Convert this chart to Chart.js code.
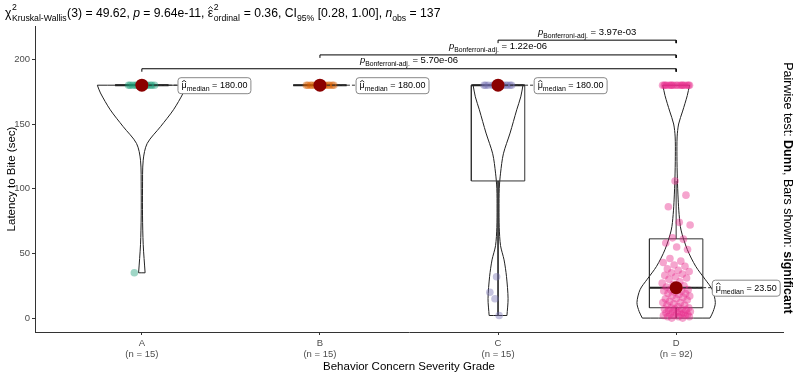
<!DOCTYPE html>
<html>
<head>
<meta charset="utf-8">
<script src="https://cdn.jsdelivr.net/npm/chart.js@4.4.1/dist/chart.umd.min.js"></script>
<style>
  html, body { margin: 0; padding: 0; background: #fff; }
  #wrap { width: 800px; height: 374px; position: relative; }
</style>
</head>
<body>
<div id="wrap"><canvas id="chart"></canvas></div>
<script>
// Groups and sizes
const groups = ['A', 'B', 'C', 'D'];
const groupN = [15, 15, 15, 92];
const groupColors = ['27, 158, 119', '217, 95, 2', '117, 112, 179', '231, 41, 138'];

// Raw observations (latency in seconds)
const valuesA = [180, 35, 180, 180, 180, 180, 180, 180, 180, 180, 180, 180, 180, 180, 180];
const valuesB = [180, 180, 180, 180, 180, 180, 180, 180, 180, 180, 180, 180, 180, 180, 180];
const valuesC = [180, 180, 180, 20, 180, 32, 180, 180, 180, 180, 2, 180, 180, 15, 180];
const valuesD = [
  0, 0, 1, 1, 1, 2, 2, 2, 3, 3, 3, 4, 4, 4, 5, 5, 5, 6, 6, 7, 7, 7, 8,
  8, 9, 10, 10, 11, 12, 12, 13, 14, 15, 15, 16, 17, 17, 18, 19, 19, 20, 21, 21, 22, 22, 23,
  24, 25, 26, 27, 28, 30, 31, 32, 33, 34, 35, 36, 37, 38, 40, 41, 43, 44, 46, 53, 55, 58, 61, 62,
  72, 74, 86, 95, 106,
  180, 180, 180, 180, 180, 180, 180, 180, 180, 180, 180, 180, 180, 180, 180, 180, 180
];
const groupValues = [valuesA, valuesB, valuesC, valuesD];

// Violin density profiles (relative)
const violinA_y = [35, 57, 79, 100, 122, 135, 148, 161, 174, 180];
const violinA_d = [0.073, 0.03, 0.015, 0.015, 0.03, 0.12, 0.42, 0.71, 0.93, 1.0];
const violinC_y = [2, 15, 32, 45, 56, 70, 85, 100, 112, 127, 143, 161, 171, 180];
const violinC_d = [0.2, 0.225, 0.19, 0.135, 0.056, 0.027, 0.022, 0.027, 0.056, 0.12, 0.27, 0.42, 0.51, 0.56];
const violinD_y = [0, 5, 12, 22, 30, 40, 53, 68, 80, 92, 108, 125, 140, 150, 160, 172, 180];
const violinD_d = [0.76, 0.83, 0.88, 0.81, 0.65, 0.44, 0.25, 0.11, 0.067, 0.045, 0.027, 0.018, 0.022, 0.056, 0.146, 0.25, 0.30];
const violins = [
  { g: 0, y: violinA_y, d: violinA_d },
  { g: 2, y: violinC_y, d: violinC_d },
  { g: 3, y: violinD_y, d: violinD_d }
];

// Pairwise comparisons (Dunn, Bonferroni)
const pairs = [[1, 4], [2, 4], [3, 4]];
const pairP = ['5.70e-06', '1.22e-06', '3.97e-03'];
const bracketLevels = [192.7, 203.4, 214.8];

// Kruskal-Wallis summary
const kwDf = 3;
const kwChi2 = '49.62';
const kwP = '9.64e-11';
const kwEps2 = '0.36';
const kwCI = ['0.28', '1.00'];

const FONT = '"Liberation Sans", Arial, sans-serif';
const VIOLIN_HALF = 0.25;
const BOX_HALF = 0.15;
const JITTER = 0.08;

function quantile(s, p) {
  const h = (s.length - 1) * p, lo = Math.floor(h);
  const hi = Math.min(lo + 1, s.length - 1);
  return s[lo] + (h - lo) * (s[hi] - s[lo]);
}
function boxStats(vals) {
  const s = [...vals].sort((a, b) => a - b);
  const q1 = quantile(s, 0.25), med = quantile(s, 0.5), q3 = quantile(s, 0.75);
  const iqr = q3 - q1;
  const lo = Math.min(...s.filter(v => v >= q1 - 1.5 * iqr));
  const hi = Math.max(...s.filter(v => v <= q3 + 1.5 * iqr));
  return { q1, med, q3, lo, hi };
}
const stats = groupValues.map(boxStats);

// deterministic horizontal spread for the dots
function jitter(i, g) {
  const u = ((i + 1) * 0.6180339887 + g * 0.37) % 1;
  return (u - 0.5) * 2 * JITTER;
}

const datasets = [];
const GAP = c => ({ x: c, y: null });

// violins
violins.forEach(v => {
  const c = v.g + 1, pts = [];
  const n = v.y.length;
  v.y.forEach((yy, i) => pts.push({ x: c + v.d[i] * VIOLIN_HALF, y: yy }));
  pts.push(GAP(c));
  v.y.forEach((yy, i) => pts.push({ x: c - v.d[i] * VIOLIN_HALF, y: yy }));
  pts.push(GAP(c));
  pts.push({ x: c - v.d[n - 1] * VIOLIN_HALF, y: v.y[n - 1] }, { x: c + v.d[n - 1] * VIOLIN_HALF, y: v.y[n - 1] });
  pts.push(GAP(c));
  pts.push({ x: c - v.d[0] * VIOLIN_HALF, y: v.y[0] }, { x: c + v.d[0] * VIOLIN_HALF, y: v.y[0] });
  datasets.push({
    data: pts, showLine: true, spanGaps: false, tension: 0.3, fill: false,
    borderColor: '#222', borderWidth: 1, pointRadius: 0, pointHoverRadius: 0, order: 6
  });
});

// boxes + whiskers
stats.forEach((s, g) => {
  const c = g + 1;
  datasets.push({
    data: [
      { x: c - BOX_HALF, y: s.q1 }, { x: c + BOX_HALF, y: s.q1 }, { x: c + BOX_HALF, y: s.q3 },
      { x: c - BOX_HALF, y: s.q3 }, { x: c - BOX_HALF, y: s.q1 }, GAP(c),
      { x: c, y: s.q3 }, { x: c, y: s.hi }, GAP(c),
      { x: c, y: s.q1 }, { x: c, y: s.lo }
    ],
    showLine: true, spanGaps: false, tension: 0, fill: false,
    borderColor: '#333', borderWidth: 1, pointRadius: 0, pointHoverRadius: 0, order: 5
  });
  datasets.push({
    data: [{ x: c - BOX_HALF, y: s.med }, { x: c + BOX_HALF, y: s.med }],
    showLine: true, tension: 0, borderColor: '#222', borderWidth: 2,
    pointRadius: 0, pointHoverRadius: 0, order: 4
  });
});

// pairwise brackets
const TICK = 2.3;
pairs.forEach((pr, k) => {
  const yl = bracketLevels[k];
  datasets.push({
    data: [{ x: pr[0], y: yl - TICK }, { x: pr[0], y: yl }, { x: pr[1], y: yl }, { x: pr[1], y: yl - TICK }],
    showLine: true, tension: 0, borderColor: '#000', borderWidth: 1,
    pointRadius: 0, pointHoverRadius: 0, order: 6, clip: false
  });
});

// jittered observations
groupValues.forEach((vals, g) => {
  datasets.push({
    data: vals.map((v, i) => ({ x: g + 1 + jitter(i, g), y: v })),
    pointRadius: 3.8, pointHoverRadius: 3.8, borderWidth: 0,
    backgroundColor: `rgba(${groupColors[g]}, 0.42)`, order: 2
  });
});

// medians
datasets.push({
  data: stats.map((s, g) => ({ x: g + 1, y: s.med })),
  pointRadius: 6.5, pointHoverRadius: 6.5, borderWidth: 0,
  backgroundColor: '#8B0000', order: 1
});

// ---- rich text helpers (sub/superscripts, hats) ----
function fontStr(p) {
  return `${p.it ? 'italic ' : ''}${p.b ? 'bold ' : ''}${p.f}px ${FONT}`;
}
function measureRich(ctx, parts) {
  let w = 0;
  parts.forEach(p => {
    ctx.font = fontStr(p);
    if (p.kind === 'stack') {
      p.w = Math.max(ctx.measureText(p.sup).width, ctx.measureText(p.sub).width) + 1;
    } else {
      p.w = ctx.measureText(p.t).width;
    }
    w += p.w;
  });
  return w;
}
function drawHat(ctx, x, y, w, f) {
  const top = y - f * 0.58;
  ctx.save();
  ctx.lineWidth = 0.8;
  ctx.beginPath();
  ctx.moveTo(x + 0.5, top - 1);
  ctx.lineTo(x + w / 2, top - f * 0.28);
  ctx.lineTo(x + w - 0.5, top - 1);
  ctx.stroke();
  ctx.restore();
}
function drawRich(ctx, x, y, parts) {
  const total = measureRich(ctx, parts);
  ctx.textAlign = 'left';
  ctx.textBaseline = 'alphabetic';
  parts.forEach(p => {
    ctx.font = fontStr(p);
    if (p.kind === 'stack') {
      ctx.fillText(p.sup, x + 0.5, y - p.f * 0.8);
      ctx.fillText(p.sub, x + 0.5, y + p.f * 0.45);
    } else if (p.kind === 'sub') {
      ctx.fillText(p.t, x, y + p.f * 0.45);
    } else {
      ctx.fillText(p.t, x, y);
      if (p.hat) drawHat(ctx, x, y, p.w, p.f);
    }
    x += p.w;
  });
  return total;
}

const annotPlugin = {
  id: 'annot',
  afterDatasetsDraw(chart) {
    const { ctx, scales: { x, y } } = chart;
    ctx.save();
    ctx.fillStyle = '#000';
    ctx.strokeStyle = '#000';

    // bracket labels
    pairs.forEach((pr, k) => {
      const xm = x.getPixelForValue((pr[0] + pr[1]) / 2);
      const yl = y.getPixelForValue(bracketLevels[k]);
      const parts = [
        { t: 'p', f: 9.5, it: true },
        { t: 'Bonferroni-adj.', f: 6.8, kind: 'sub' },
        { t: ' = ' + pairP[k], f: 9.5 }
      ];
      const w = measureRich(ctx, parts);
      drawRich(ctx, xm - w / 2, yl - 5.5, parts);
    });

    // median labels
    stats.forEach((s, g) => {
      const px = x.getPixelForValue(g + 1);
      const py = y.getPixelForValue(s.med);
      const bx = x.getPixelForValue(g + 1.2);
      const parts = [
        { t: 'μ', f: 9, hat: true },
        { t: 'median', f: 7, kind: 'sub' },
        { t: ' = ' + s.med.toFixed(2), f: 9 }
      ];
      const w = measureRich(ctx, parts);
      ctx.save();
      ctx.strokeStyle = '#333';
      ctx.lineWidth = 1;
      ctx.setLineDash([3, 2]);
      ctx.beginPath();
      ctx.moveTo(px + 7, py);
      ctx.lineTo(bx, py);
      ctx.stroke();
      ctx.restore();
      ctx.save();
      ctx.fillStyle = '#fff';
      ctx.strokeStyle = '#888';
      ctx.lineWidth = 1;
      ctx.beginPath();
      ctx.roundRect(bx + 0.5, py - 8 + 0.5, w + 7, 16, 3);
      ctx.fill();
      ctx.stroke();
      ctx.restore();
      ctx.fillStyle = '#000';
      ctx.strokeStyle = '#000';
      drawRich(ctx, bx + 4, py + 3, parts);
    });
    ctx.restore();
  },
  afterDraw(chart) {
    const { ctx } = chart;
    ctx.save();
    ctx.fillStyle = '#000';
    ctx.strokeStyle = '#000';
    const nObs = groupN.reduce((a, b) => a + b, 0);
    drawRich(ctx, 5, 17, [
      { t: 'χ', f: 12.2 },
      { sup: '2', sub: 'Kruskal-Wallis', f: 8.7, kind: 'stack' },
      { t: `(${kwDf}) = ${kwChi2}, `, f: 12.2 },
      { t: 'p', f: 12.2, it: true },
      { t: ` = ${kwP}, `, f: 12.2 },
      { t: 'ε', f: 12.2, hat: true },
      { sup: '2', sub: 'ordinal', f: 8.7, kind: 'stack' },
      { t: ` = ${kwEps2}, CI`, f: 12.2 },
      { t: '95%', f: 8.7, kind: 'sub' },
      { t: ` [${kwCI[0]}, ${kwCI[1]}], `, f: 12.2 },
      { t: 'n', f: 12.2, it: true },
      { t: 'obs', f: 8.7, kind: 'sub' },
      { t: ` = ${nObs}`, f: 12.2 }
    ]);

    // right-hand caption
    const cap = [
      { t: 'Pairwise test: ', f: 12.5 },
      { t: 'Dunn', f: 12.5, b: true },
      { t: ', Bars shown: ', f: 12.5 },
      { t: 'significant', f: 12.5, b: true }
    ];
    const w = measureRich(ctx, cap);
    ctx.translate(788, 188);
    ctx.rotate(Math.PI / 2);
    drawRich(ctx, -w / 2, 4.5, cap);
    ctx.restore();
  }
};

new Chart(document.getElementById('chart'), {
  type: 'scatter',
  data: { datasets },
  options: {
    responsive: true,
    maintainAspectRatio: false,
    animation: false,
    events: [],
    layout: { padding: { top: 26, right: 17, left: 0, bottom: 0 } },
    plugins: { legend: { display: false }, tooltip: { enabled: false } },
    scales: {
      x: {
        type: 'linear', min: 0.4, max: 4.6,
        afterBuildTicks: s => { s.ticks = groups.map((g, i) => ({ value: i + 1 })); },
        afterFit: s => { s.height = 42; },
        ticks: {
          callback: v => [groups[v - 1], `(n = ${groupN[v - 1]})`],
          color: '#4D4D4D', font: { family: FONT, size: 9.5, lineHeight: 1.15 },
          padding: 3, maxRotation: 0, autoSkip: false
        },
        grid: { drawOnChartArea: false, drawTicks: true, tickLength: 3, color: '#333' },
        border: { display: true, color: '#333', width: 1 },
        title: {
          display: true, text: 'Behavior Concern Severity Grade', color: '#000',
          font: { family: FONT, size: 11.5 }, padding: { top: 0, bottom: 0 }
        }
      },
      y: {
        type: 'linear', min: -10.75, max: 225.75,
        afterBuildTicks: s => { s.ticks = [0, 50, 100, 150, 200].map(v => ({ value: v })); },
        afterFit: s => { s.width = 35; },
        ticks: { color: '#4D4D4D', font: { family: FONT, size: 9.5 }, padding: 2 },
        grid: { drawOnChartArea: false, drawTicks: true, tickLength: 3, color: '#333' },
        border: { display: true, color: '#333', width: 1 },
        title: {
          display: true, text: 'Latency to Bite (sec)', color: '#000',
          font: { family: FONT, size: 11.5 }, padding: { top: 5, bottom: 0 }
        }
      }
    }
  },
  plugins: [annotPlugin]
});
</script>
</body>
</html>
